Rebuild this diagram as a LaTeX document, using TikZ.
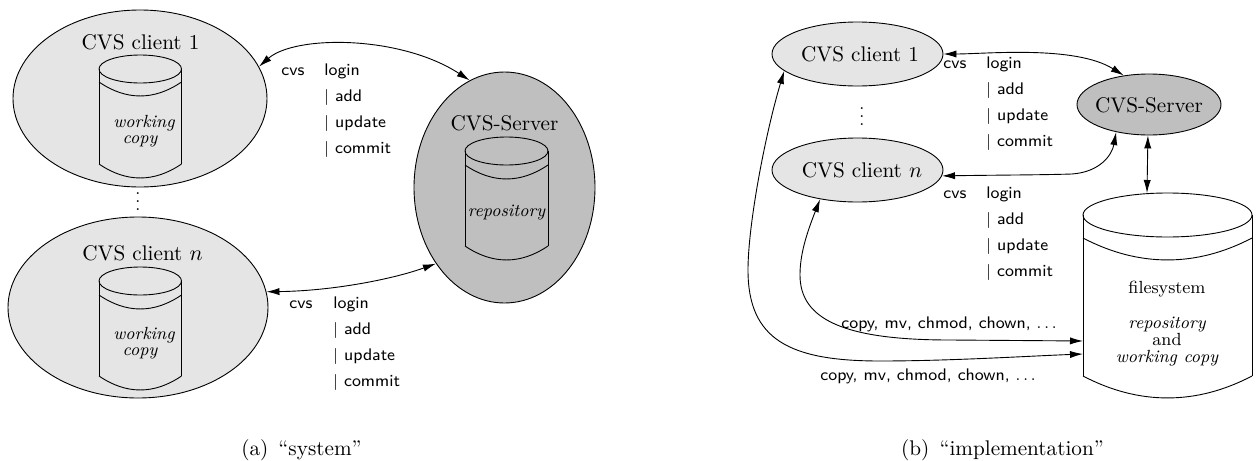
\documentclass[tikz,border=0pt]{standalone}
\usetikzlibrary{shapes.geometric,arrows.meta}
\definecolor{cl}{gray}{0.9}
\definecolor{sv}{gray}{0.75}
\tikzset{
 px/.style={x=0.5pt,y=-0.5pt},
 ell/.style={draw,ellipse,inner sep=0pt,line width=0.45pt},
 cylbox/.style={inner sep=0pt,rectangle},
 cylline/.style={line width=0.45pt},
 conn/.style={line width=0.45pt,{Latex[length=6.5pt,width=3.6pt]}-{Latex[length=6.5pt,width=3.6pt]}},
 big/.style={inner sep=0pt,anchor=base,font=\fontsize{10.6}{12}\selectfont},
 rm/.style={inner sep=0pt,anchor=base,font=\fontsize{8.8}{10}\selectfont},
 it/.style={inner sep=0pt,anchor=base,font=\fontsize{8.8}{10}\selectfont\itshape},
 sf/.style={inner sep=0pt,anchor=base west,font=\fontsize{8.4}{10}\sffamily\selectfont},
 capt/.style={inner sep=0pt,anchor=base,font=\fontsize{10.6}{12}\selectfont},
 vd/.style={inner sep=0pt,anchor=center,font=\fontsize{8.8}{10}\selectfont},
}
\newcommand{\cvslist}[4]{%
 \node[sf] (#1c) at (#2,#4) {cvs};
 \node[sf] (#1l) at (#3,#4) {login};
 \node[sf] (#1a) at (#3,#4+26) {$|$ add};
 \node[sf] (#1u) at (#3,#4+52) {$|$ update};
 \node[sf] (#1m) at (#3,#4+78) {$|$ commit};
}
\newcommand{\cyl}[7]{% name xl xr ytop ry y2 ybot
 \node[cylbox,minimum width=(#3-#2)*0.5pt,minimum height=(#7-#4)*0.5pt] (#1) at ({(#2+#3)/2},{(#4+#7)/2}) {};
 \draw[cylline] (#2,#4+#5) arc[start angle=180,end angle=-180,x radius={(#3-#2)/2},y radius=#5];
 \draw[cylline] (#2,#4+#5) -- (#2,#7-#5+0);
 \draw[cylline] (#3,#4+#5) -- (#3,#7-#5+0);
 \draw[cylline] (#2,#6) .. controls ({#2+(#3-#2)*0.33},#6+#5*1.33) and ({#3-(#3-#2)*0.33},#6+#5*1.33) .. (#3,#6);
 \draw[cylline] (#2,#7-#5) .. controls ({#2+(#3-#2)*0.33},#7-#5+#5*1.33) and ({#3-(#3-#2)*0.33},#7-#5+#5*1.33) .. (#3,#7-#5);
}
\begin{document}
\begin{tikzpicture}[px]
\useasboundingbox (0,0) rectangle (1260,461);
% left
\node[ell,fill=cl,minimum width=127pt,minimum height=88.5pt] (lc1) at (140,98.5) {};
\node[ell,fill=cl,minimum width=130pt,minimum height=90.5pt] (lcn) at (138,307.5) {};
\node[ell,fill=sv,minimum width=90.5pt,minimum height=115.5pt] (ls) at (504.5,187.5) {};
\node[big] (lc1t) at (140.5,49) {CVS client 1};
\node[big] (lcnt) at (142.5,260) {CVS client $n$};
\node[big] (lst) at (504.5,130) {CVS-Server};
\cyl{lcy1}{99}{181.5}{55}{14}{82}{178}
\cyl{lcyn}{99}{181.5}{267}{14}{295}{390}
\cyl{lcys}{465}{548}{137}{14}{165}{260}
\node[it] (lw1) at (144,127) {working};
\node[it] (lw2) at (140,143) {copy};
\node[it] (lwn1) at (144,339) {working};
\node[it] (lwn2) at (140,355) {copy};
\node[it] (lr) at (506.5,216) {repository};
\node[vd] (ldots) at (138,196) {$\vdots$};
\draw[conn] (lc1.15.7) .. controls (295,35) and (400,35) .. (ls.108.6);
\draw[conn] (lcn.7) .. controls (330,291) and (390,280) .. (ls.228);
\cvslist{la}{281}{324}{75}
\cvslist{lb}{289}{333}{308}
% right
\node[ell,fill=cl,minimum width=85.5pt,minimum height=32pt] (rc1) at (857.5,54) {};
\node[ell,fill=cl,minimum width=85.5pt,minimum height=32pt] (rcn) at (857.5,170) {};
\node[ell,fill=sv,minimum width=72pt,minimum height=30.5pt] (rs) at (1149,104.5) {};
\node[big] (rc1t) at (860,61) {CVS client 1};
\node[big] (rcnt) at (862,177) {CVS client $n$};
\node[big] (rst) at (1149,112) {CVS-Server};
\cyl{rcy}{1083}{1252}{193}{22}{238}{398}
\coordinate (rin1) at (1083,341);
\coordinate (rin2) at (1083,354);
\coordinate (rcyt) at (1147,193);
\node[rm] (rf) at (1167,293) {filesystem};
\node[it] (rr) at (1167,328) {repository};
\node[rm] (ran) at (1167,345) {and};
\node[it] (rw) at (1167,362) {working copy};
\node[vd] (rdots) at (862,111) {$\vdots$};
\draw[conn] (rc1.0) .. controls (985,54) and (1075,45) .. (rs.131);
\draw[conn] (rcn.356) .. controls (1000,175) and (1040,175) .. (1072,174) .. controls (1100,172) and (1112,155) .. (rs.220);
\draw[conn] (rs.268) -- (rcyt);
\draw[conn] (rc1.193) .. controls (765,135) and (748,225) .. (748,270) .. controls (748,340) and (790,361) .. (880,361) .. controls (950,361) and (1030,356) .. (rin2);
\draw[conn] (rcn.218) .. controls (806,235) and (800,255) .. (800,275) .. controls (800,320) and (845,340) .. (950,340) -- (rin1);
\cvslist{ra}{943}{986}{68}
\cvslist{rb}{943}{986}{198}
\node[sf] (rcp1) at (841,328) {copy, mv, chmod, chown, $\ldots$};
\node[sf] (rcp2) at (820,380) {copy, mv, chmod, chown, $\ldots$};
\node[capt] (capa) at (301.5,455) {(a)\hspace{1.5pt} ``system''};
\node[capt] (capb) at (1002.5,455) {(b)\hspace{1.5pt} ``implementation''};
\end{tikzpicture}
\end{document}
